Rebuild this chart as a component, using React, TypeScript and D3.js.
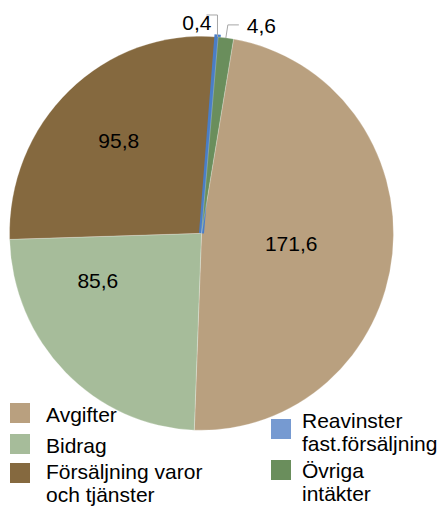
import React from "react";
import * as d3 from "d3";

// chart values
const categories = ["Avgifter", "Bidrag", "Försäljning varor och tjänster", "Reavinster fast.försäljning", "Övriga intäkter"];
const values = [171.6, 85.6, 95.8, 0.4, 4.6];
const valueLabels = ["171,6", "85,6", "95,8", "0,4", "4,6"];
const legendLines = [["Avgifter"], ["Bidrag"], ["Försäljning varor", "och tjänster"], ["Reavinster", "fast.försäljning"], ["Övriga", "intäkter"]];
const colors = ["#B9A07F", "#A6BC9A", "#85693F", "#4A7EC6", "#6A8E5C"];

const W = 439;
const H = 506;
const cx = 201.5;
const cy = 233.3;
const R = 192;
const sy = 1.026; // pie is a bit taller than wide
const startDeg = 9.6;
const FONT = "'Liberation Sans', Arial, sans-serif";
const FS = 21;

// label placement: [radius fraction, angle nudge in degrees] for inside labels
const insideLabel: Record<number, [number, number]> = {
  0: [0.47, 0.5],
  1: [0.59, 21],
  2: [0.64, 1.3],
};

// legend placement: column x, swatch top, first baseline
const legendPos = [
  { x: 10, sw: 403, base: 422 },
  { x: 10, sw: 434, base: 453 },
  { x: 10, sw: 463, base: 479 },
  { x: 271, sw: 419, base: 428 },
  { x: 271, sw: 460, base: 478 },
];

const App = () => {
  const start = (startDeg * Math.PI) / 180;
  const pie = d3
    .pie<number>()
    .sort(null)
    .startAngle(start)
    .endAngle(start + 2 * Math.PI);
  const arcs = pie(values);
  const arc = d3.arc<d3.PieArcDatum<number>>().innerRadius(0).outerRadius(R);

  const pt = (ang: number, r: number) => [cx + Math.sin(ang) * r, cy - Math.cos(ang) * r * sy];

  return (
    <div style={{ position: "absolute", left: 0, top: 0 }}>
      <svg width={W} height={H} style={{ display: "block", background: "#fff" }}>
        <g transform={`translate(${cx},${cy}) scale(1,${sy})`}>
          {arcs.map((a, i) => (
            <path
              key={categories[i]}
              d={arc(a) || ""}
              fill={colors[i]}
              stroke={i === 3 ? colors[i] : "#ffffff"}
              strokeWidth={i === 3 ? 5 : 0.4}
              strokeOpacity={i === 3 ? 1 : 0.6}
            />
          ))}
        </g>
        {arcs.map((a, i) => {
          const mid = (a.startAngle + a.endAngle) / 2;
          if (insideLabel[i]) {
            const [f, nudge] = insideLabel[i];
            const [x, y] = pt(mid + (nudge * Math.PI) / 180, R * f);
            return (
              <text key={"l" + i} x={x} y={y} dy="0.36em" textAnchor="middle" fontFamily={FONT} fontSize={FS} fill="#000">
                {valueLabels[i]}
              </text>
            );
          }
          // small slices: leader line up from the rim, then sideways
          const [x0, y0] = pt(mid, R);
          const left = i === 3;
          const elbowY = left ? y0 - 22 : y0 - 13;
          const endX = left ? x0 - 11 : x0 + 13;
          return (
            <g key={"l" + i}>
              <polyline
                points={`${x0},${y0} ${left ? x0 : x0 + 2},${elbowY} ${endX},${elbowY}`}
                fill="none"
                stroke="#A6A6A6"
                strokeWidth={1}
              />
              <text
                x={left ? x0 - 6 : endX + 8}
                y={left ? elbowY + 15 : elbowY + 8}
                textAnchor={left ? "end" : "start"}
                fontFamily={FONT}
                fontSize={FS}
                fill="#000"
              >
                {valueLabels[i]}
              </text>
            </g>
          );
        })}
        {legendLines.map((lines, i) => {
          const p = legendPos[i];
          return (
            <g key={"lg" + i}>
              <rect x={p.x} y={p.sw} width={20} height={20} fill={i === 3 ? "#769AD1" : colors[i]} />
              <text fontFamily={FONT} fontSize={FS} fill="#000">
                {lines.map((t, j) => (
                  <tspan key={j} x={p.x + (i < 3 ? 36 : 31)} y={p.base + j * 23}>
                    {t}
                  </tspan>
                ))}
              </text>
            </g>
          );
        })}
      </svg>
    </div>
  );
};

export default App;
